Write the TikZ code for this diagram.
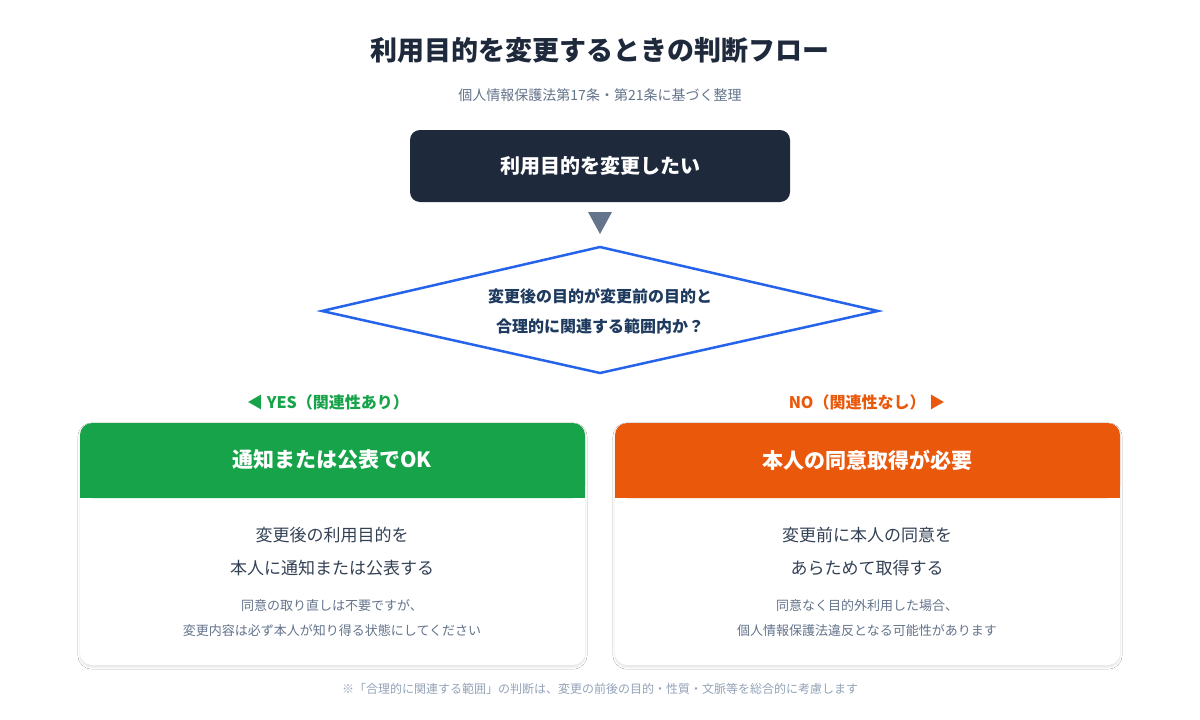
\documentclass[tikz,border=0pt]{standalone}
\usepackage{fontspec}
\setmainfont{Noto Sans CJK JP}
\newfontfamily\jpb{Noto Sans CJK JP Bold}
\usetikzlibrary{shadows.blur}
\definecolor{navy}{HTML}{1E293B}
\definecolor{slate}{HTML}{64748B}
\definecolor{blu}{HTML}{2563EB}
\definecolor{dblu}{HTML}{1E3A5F}
\definecolor{grn}{HTML}{16A34A}
\definecolor{org}{HTML}{EA580C}
\definecolor{txt}{HTML}{334155}
\definecolor{gry}{HTML}{64748B}
\definecolor{lgry}{HTML}{94A3B8}
\tikzset{
  card/.style={fill=white,rounded corners=12pt,blur shadow={shadow blur steps=6,shadow xshift=0pt,shadow yshift=-2pt,shadow opacity=12}},
  body/.style={font=\fontsize{17}{20}\selectfont,text=txt},
  small/.style={font=\fontsize{13}{16}\selectfont,text=gry},
  head/.style={font=\fontsize{21}{24}\bfseries\selectfont,text=white}
}
\begin{document}
\begin{tikzpicture}[x=1pt,y=-1pt]
\useasboundingbox[fill=white] (0,0) rectangle (1200,720);
\node (title) at (600,50) {\fontsize{27}{32}\bfseries\selectfont\color{navy}利用目的を変更するときの判断フロー};
\node (sub) at (600,95) {\fontsize{14}{17}\selectfont\color{gry}個人情報保護法第17条・第21条に基づく整理};
\node (start) [fill=navy,rounded corners=10pt,minimum width=380pt,minimum height=72pt,font=\fontsize{20}{24}\bfseries\selectfont,text=white] at (600,166) {利用目的を変更したい};
\fill[slate] (588,212) coordinate (t1) -- (612,212) -- (600,234) -- cycle;
\draw[blu,line width=2.5pt,line join=miter,fill=white] (322,311) coordinate (dl) -- (600,247) -- (878,311) coordinate (dr) -- (600,373) -- cycle;
\node (q1) at (600,296) {\fontsize{16}{19}\bfseries\selectfont\color{dblu}変更後の目的が変更前の目的と};
\node (q2) at (600,326) {\fontsize{16}{19}\bfseries\selectfont\color{dblu}合理的に関連する範囲内か？};
\node (yes) at (328,402) {\fontsize{16}{19}\bfseries\selectfont\color{grn}◀ YES（関連性あり）};
\node (no) at (867,402) {\fontsize{16}{19}\bfseries\selectfont\color{org}NO（関連性なし） ▶};
% left card
\path[card] (80,423) rectangle (585,665);
\fill[grn,rounded corners=12pt] (80,498) -- (80,423) -- (585,423) -- (585,498) -- cycle;
\fill[grn] (80,470) rectangle (585,498);
\node[head] (lh) at (332,460) {通知または公表でOK};
\node[body] (lb1) at (332,535) {変更後の利用目的を};
\node[body] (lb2) at (332,568) {本人に通知または公表する};
\node[small] (ls1) at (332,606) {同意の取り直しは不要ですが、};
\node[small] (ls2) at (332,631) {変更内容は必ず本人が知り得る状態にしてください};
% right card
\path[card] (615,423) rectangle (1120,665);
\fill[org,rounded corners=12pt] (615,498) -- (615,423) -- (1120,423) -- (1120,498) -- cycle;
\fill[org] (615,470) rectangle (1120,498);
\node[head] (rh) at (867,460) {本人の同意取得が必要};
\node[body] (rb1) at (867,535) {変更前に本人の同意を};
\node[body] (rb2) at (867,568) {あらためて取得する};
\node[small] (rs1) at (867,606) {同意なく目的外利用した場合、};
\node[small] (rs2) at (867,631) {個人情報保護法違反となる可能性があります};
\node (foot) at (600,689) {\fontsize{12}{14}\selectfont\color{lgry}※「合理的に関連する範囲」の判断は、変更の前後の目的・性質・文脈等を総合的に考慮します};
\end{tikzpicture}
\end{document}
